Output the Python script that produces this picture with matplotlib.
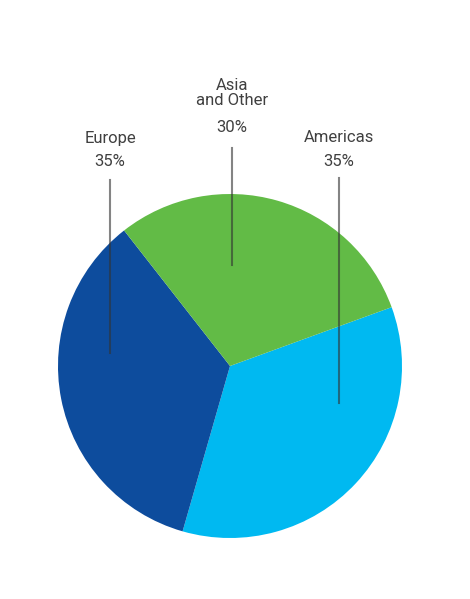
import matplotlib.pyplot as plt

regions = ['Americas', 'Europe', 'Asia\nand Other']
shares = [35, 35, 30]
colors = ['#00B9F1', '#0D4C9D', '#62BB46']

# label text positions and leader line spans
label_x = [339, 110, 232]
label_y = [138, 138, 93]
pct_y = [162, 162, 128]
line_top = [178, 180, 148]
line_bottom = [403, 353, 265]

fig = plt.figure(figsize=(4.7, 5.99), dpi=100)
ax = fig.add_axes([0, 0, 1, 1])

# y axis is inverted, so angles run the other way round
ax.pie(shares, colors=colors, startangle=-20, counterclock=True,
       center=(230, 366), radius=172, frame=True,
       wedgeprops={'linewidth': 0})
ax.set_xlim(0, 470)
ax.set_ylim(599, 0)
ax.set_aspect('equal')
ax.axis('off')

for name, pct, x, y, py, y0, y1 in zip(regions, shares, label_x, label_y,
                                       pct_y, line_top, line_bottom):
    ax.text(x, y, name, ha='center', va='center', fontsize=12,
            color='#404040', linespacing=1.0, family='Roboto')
    ax.text(x, py, f'{pct}%', ha='center', va='center', fontsize=12,
            color='#404040', family='Roboto')
    ax.plot([x, x], [y0, y1], color='#333333', alpha=0.6, linewidth=1.5)

plt.savefig('out.png')
plt.close()
